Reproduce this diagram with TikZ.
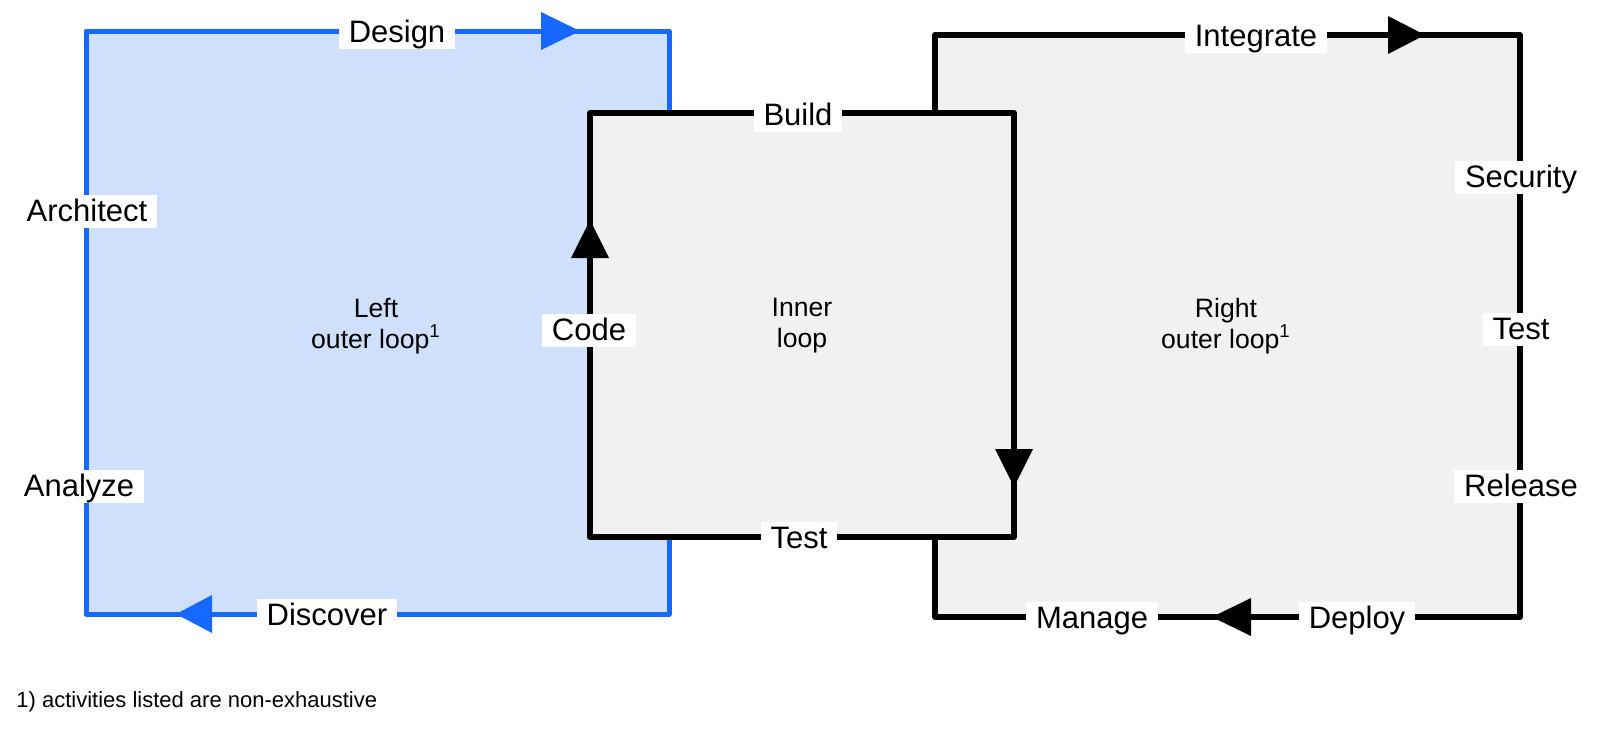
\documentclass[tikz,border=0pt]{standalone}
\usepackage{fontspec}
\setmainfont{Liberation Sans}
\definecolor{loopblue}{RGB}{22,104,255}
\definecolor{lightblue}{RGB}{207,224,252}
\definecolor{lightgray}{RGB}{241,241,241}
\begin{document}
\begin{tikzpicture}[x=0.5pt,y=-0.5pt,
  bluebox/.style={draw=loopblue,fill=lightblue,line width=2.5pt,line join=round},
  graybox/.style={draw=black,fill=lightgray,line width=3pt,line join=round},
  lbl/.style={anchor=base,fill=white,inner xsep=5pt,inner ysep=1.5pt,text height=11.5pt,text depth=2pt,font=\fontsize{15.5}{18}\selectfont},
  ctr/.style={align=center,font=\fontsize{13.3}{15.5}\selectfont},
  bluehead/.style={fill=loopblue},
  blackhead/.style={fill=black}]
\useasboundingbox (0,0) rectangle (1600,740);
% rectangles
\draw[bluebox] (86,31) coordinate (b1) rectangle (669,614) coordinate (b2);
\draw[graybox] (935,35) coordinate (r1) rectangle (1520,617) coordinate (r2);
\draw[graybox] (590,113) coordinate (i1) rectangle (1014,537) coordinate (i2);
% arrow heads
\fill[bluehead] (541,12) -- (580,31) -- (541,50) -- cycle;
\fill[bluehead] (212,595) -- (176,614) -- (212,633) -- cycle;
\fill[blackhead] (571,258) -- (590,220) -- (609,258) -- cycle;
\fill[blackhead] (995,449) -- (1014,487) -- (1033,449) -- cycle;
\fill[blackhead] (1388,16) -- (1425,35) -- (1388,54) -- cycle;
\fill[blackhead] (1251,598) -- (1212,617) -- (1251,636) -- cycle;
% labels (baseline = text centre + 11)
\node[lbl] (design) at (397,42) {Design};
\node[lbl] (architect) at (87,221) {Architect};
\node[lbl] (analyze) at (79,496) {Analyze};
\node[lbl] (discover) at (327,625) {Discover};
\node[lbl] (build) at (798,125) {Build};
\node[lbl] (code) at (589,340) {Code};
\node[lbl] (testi) at (799,548) {Test};
\node[lbl] (integrate) at (1256,46) {Integrate};
\node[lbl] (security) at (1521,187) {Security};
\node[lbl] (testr) at (1521,339) {Test};
\node[lbl] (release) at (1521,496) {Release};
\node[lbl] (manage) at (1092,628) {Manage};
\node[lbl] (deploy) at (1357,628) {Deploy};
% centre texts
\node[ctr] (left) at (376,326) {Left\\outer loop\textsuperscript{1}};
\node[ctr] (inner) at (802,326) {Inner\\loop};
\node[ctr] (right) at (1226,326) {Right\\outer loop\textsuperscript{1}};
% footnote
\node[anchor=base west,inner sep=0pt,font=\fontsize{11}{13}\selectfont] (foot) at (16,707) {1) activities listed are non-exhaustive};
\end{tikzpicture}
\end{document}
